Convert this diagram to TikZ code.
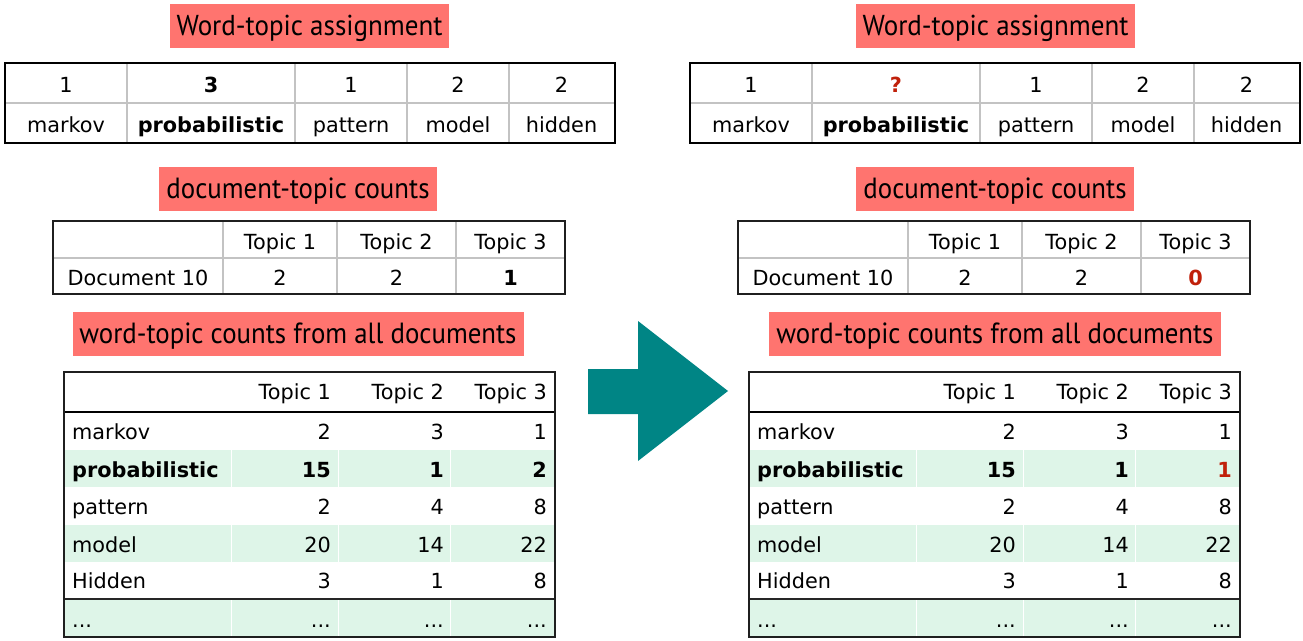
\documentclass[tikz,border=0pt]{standalone}
\usepackage{fontspec}
\usepackage{graphicx}
\newfontfamily\tabfont{DejaVu Sans}
\newfontfamily\titlefont{PT Sans}
\definecolor{salmon}{RGB}{255,116,111}
\definecolor{rowgreen}{RGB}{222,245,232}
\definecolor{teal}{RGB}{0,133,133}
\definecolor{hl}{RGB}{192,32,10}
\definecolor{gridgray}{RGB}{195,195,195}
\newcommand\threedots{.\kern0pt.\kern0pt.}
\tikzset{
  cell/.style={font=\tabfont\fontsize{20.8}{24}\selectfont, anchor=base, inner sep=0pt},
  cellr/.style={cell, anchor=base east},
  celll/.style={cell, anchor=base west},
  innerline/.style={draw=gridgray, line width=1.5pt},
  outerline/.style={draw=black, line width=2pt},
  titlebox/.style={fill=salmon, inner sep=0pt, text=black},
}
\newcommand\titletext[2]{\raisebox{-2pt}[\height][\depth]{\resizebox*{#1pt}{26.5pt}{\titlefont #2}}}
% #1 xshift, #2 prefix, #3 assignment value, #4 doc count, #5 word count
\newcommand\drawhalf[5]{%
\begin{scope}[xshift=#1pt, name prefix=#2-]
  % --- word-topic assignment table
  \draw[innerline] (5,103) -- (615,103);
  \foreach \x in {127,295,407,509} \draw[innerline] (\x,63) -- (\x,143);
  \draw[outerline] (5,63) rectangle (615,143);
  \foreach \x/\t [count=\i] in {66/1,211/{\bfseries #3},351/1,458/2,561.5/2}
    \node[cell] (a\i) at (\x,92) {\t};
  \foreach \x/\t [count=\i] in {66/markov,211/{\bfseries probabilistic},351/pattern,458/model,561.5/hidden}
    \node[cell] (w\i) at (\x,132) {\t};
  % --- document-topic counts table
  \draw[innerline] (53,258) -- (565,258);
  \foreach \x in {223,337,456} \draw[innerline] (\x,221) -- (\x,294);
  \draw[outerline, draw=black!88] (53,221) rectangle (565,294);
  \foreach \x/\t [count=\i] in {280/Topic 1,396.5/Topic 2,510.5/Topic 3}
    \node[cell] (dh\i) at (\x,249) {\t};
  \foreach \x/\t [count=\i] in {138/Document 10,280/2,396.5/2,510.5/{\bfseries #4}}
    \node[cell] (dv\i) at (\x,285) {\t};
  % --- word-topic counts table
  \foreach \ya/\yb in {450/487,525/562,599/637}
    \fill[rowgreen] (64,\ya) rectangle (555,\yb);
  \foreach \x in {231,338,450}
    \foreach \ya/\yb in {450/487,525/562,599/637}
      \draw[white, line width=1pt] (\x,\ya) -- (\x,\yb);
  \draw[black, line width=2pt] (64,412) -- (555,412);
  \draw[black!85, line width=1.5pt] (64,599) -- (555,599);
  \draw[outerline, draw=black!88] (64,372) rectangle (555,637);
  \foreach \x/\t [count=\i] in {331/Topic 1,444/Topic 2,547/Topic 3}
    \node[cellr] (ch\i) at (\x,399) {\t};
  \foreach \y/\w/\a/\b/\c [count=\i] in {%
      439/markov/2/3/1,
      477/{\bfseries probabilistic}/{\bfseries 15}/{\bfseries 1}/{\bfseries #5},
      514/pattern/2/4/8,
      552/model/20/14/22,
      588/Hidden/3/1/8,
      627/\threedots/\threedots/\threedots/\threedots}{%
    \node[celll] (r\i w) at (72,\y) {\w};
    \node[cellr] (r\i a) at (331,\y) {\a};
    \node[cellr] (r\i b) at (444,\y) {\b};
    \node[cellr] (r\i c) at (547,\y) {\c};
  }
\end{scope}}
\begin{document}
\begin{tikzpicture}[x=1pt, y=-1pt]
  \useasboundingbox (0,0) rectangle (1303,640);
  % titles
  \node[titlebox, minimum width=279pt, minimum height=44pt] (LT1) at (309.5,26) {\titletext{266}{Word-topic assignment}};
  \node[titlebox, minimum width=278pt, minimum height=44pt] (LT2) at (298,189) {\titletext{263}{document-topic counts}};
  \node[titlebox, minimum width=451pt, minimum height=44pt] (LT3) at (298,334) {\titletext{437}{word-topic counts from all documents}};
  \node[titlebox, minimum width=279pt, minimum height=44pt] (RT1) at (995.5,26) {\titletext{266}{Word-topic assignment}};
  \node[titlebox, minimum width=278pt, minimum height=44pt] (RT2) at (995,189) {\titletext{263}{document-topic counts}};
  \node[titlebox, minimum width=452pt, minimum height=44pt] (RT3) at (995,334) {\titletext{437}{word-topic counts from all documents}};
  % tables
  \drawhalf{0}{L}{3}{1}{2}
  \drawhalf{685}{R}{\textcolor{hl}{?}}{\textcolor{hl}{0}}{\textcolor{hl}{1}}
  % arrow
  \fill[teal] (588,369) -- (638,369) -- (638,321) -- (728,391) -- (638,461) -- (638,414) -- (588,414) -- cycle;
\end{tikzpicture}
\end{document}
